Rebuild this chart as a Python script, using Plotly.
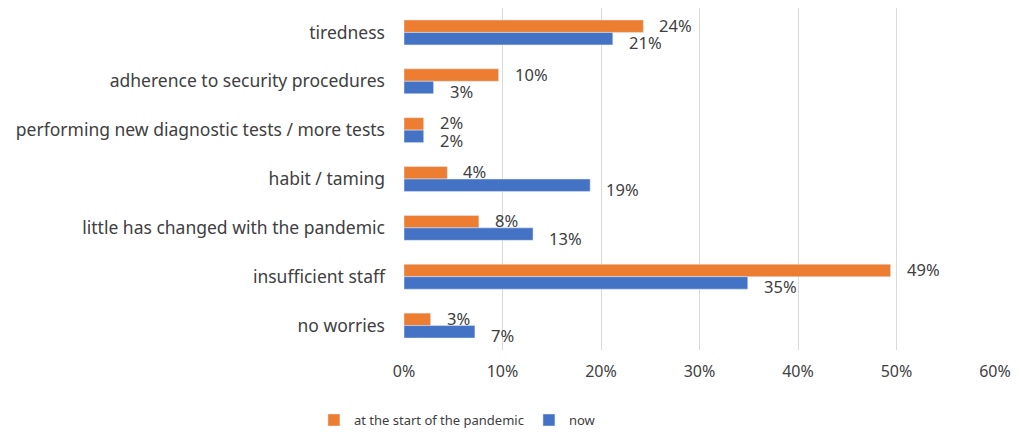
import plotly.graph_objects as go

# categories from top to bottom
categories = [
    "tiredness",
    "adherence to security procedures",
    "performing new diagnostic tests / more tests",
    "habit / taming",
    "little has changed with the pandemic",
    "insufficient staff",
    "no worries",
]
start_values = [0.243, 0.096, 0.020, 0.044, 0.076, 0.494, 0.027]
now_values = [0.212, 0.030, 0.020, 0.189, 0.131, 0.349, 0.072]
x_ticks = [0, 0.1, 0.2, 0.3, 0.4, 0.5, 0.6]

text_color = "#404040"
font_family = "Noto Sans"
orange = "#ED7D31"
blue = "#4472C4"

# the page body adds an 8px margin, so the figure is a little smaller
width, height = 1013, 427
margin_t, margin_b = 0, 85
bargap = 0.49
step = (height - margin_t - margin_b) / len(categories)
half_bar = step * (1 - bargap) / 4

fig = go.Figure()

fig.add_trace(go.Bar(
    y=categories, x=start_values, orientation="h",
    name="at the start of the pandemic",
    marker=dict(color=orange),
))
fig.add_trace(go.Bar(
    y=categories, x=now_values, orientation="h",
    name="now",
    marker=dict(color=blue),
))

# data labels beside the bar ends
for cat, v in zip(categories, start_values):
    fig.add_annotation(x=v, y=cat, text=f"{v:.0%}", showarrow=False,
                       xanchor="left", yanchor="middle", xshift=14,
                       yshift=half_bar + 1,
                       font=dict(size=16.5, color=text_color))
for cat, v in zip(categories, now_values):
    fig.add_annotation(x=v, y=cat, text=f"{v:.0%}", showarrow=False,
                       xanchor="left", yanchor="middle", xshift=14,
                       yshift=-half_bar - 4,
                       font=dict(size=16.5, color=text_color))

fig.update_layout(
    width=width, height=height,
    margin=dict(l=396, r=26, t=margin_t, b=margin_b),
    barmode="group", bargap=bargap, bargroupgap=0,
    plot_bgcolor="white", paper_bgcolor="white",
    font=dict(family=font_family, size=15, color=text_color),
    legend=dict(
        orientation="h", xref="container", yref="container",
        x=0.302, y=0.035, xanchor="left", yanchor="middle",
        font=dict(size=13, color=text_color), itemwidth=30,
        traceorder="normal",
    ),
    showlegend=True,
)
fig.update_xaxes(
    range=[0, 0.6], tickvals=x_ticks, tickformat=".0%",
    showgrid=True, gridcolor="#D9D9D9", gridwidth=1,
    zeroline=False, showline=False, ticklabelstandoff=10,
    tickfont=dict(size=16, color=text_color), automargin=False,
)
fig.update_yaxes(
    categoryorder="array", categoryarray=categories, autorange="reversed",
    showgrid=False, showline=False, ticks="", ticklabelstandoff=18,
    tickfont=dict(size=17.5, color=text_color), automargin=False,
)

fig.write_html("out.html")
